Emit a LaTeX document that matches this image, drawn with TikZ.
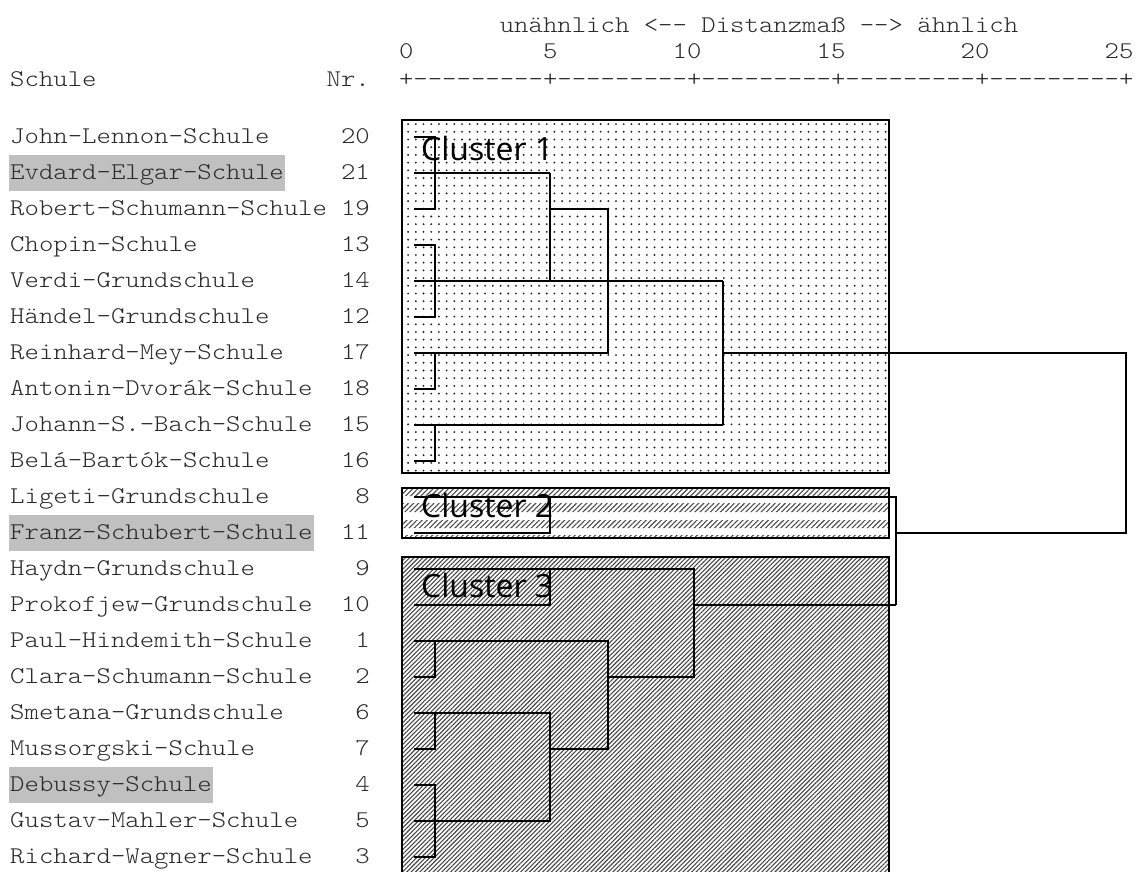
\documentclass[tikz,border=0pt]{standalone}
\usepackage{fontspec}
\setmonofont{Latin Modern Mono Light}[FakeStretch=1.143]
\newfontfamily\osans{Open Sans}
\usetikzlibrary{patterns.meta}
\definecolor{hlc}{HTML}{C0C0C0}
\definecolor{txt}{HTML}{2A2A2A}
\tikzset{
  mono/.style={font=\ttfamily\fontsize{24}{24}\selectfont, text=txt, inner sep=0pt},
  rowlab/.style={mono, anchor=base west, text height=24.5pt, text depth=11.5pt, inner ysep=0pt, inner xsep=1pt},
  rownum/.style={mono, anchor=base east},
  clab/.style={font=\osans\fontsize{32}{32}\selectfont, inner sep=0pt, anchor=base west},
  dl/.style={line width=2pt, black},
  boxline/.style={line width=2.5pt, black},
}
\begin{document}
\begin{tikzpicture}[x=1pt,y=-1pt]
\useasboundingbox (0,0) rectangle (1137,871);
\fill[white] (0,0) rectangle (1137,871);
% header
\node[mono, anchor=base west] (title) at (499.6,32) {unähnlich <-- Distanzmaß --> ähnlich};
\foreach \c/\t/\k in {27/0/a,37/5/b,46/10/c,56/15/d,66/20/e,76/25/f}
  \node[mono, anchor=base west] (tick\k) at ({10+\c*14.4},58) {\t};
\node[mono, anchor=base west] (schule) at (10,86) {Schule};
\node[rownum] (nr) at (370,86) {Nr.};
\node[mono, anchor=base west] (axis) at (398.8,86) {+---------+---------+---------+---------+---------+};
% cluster boxes
\fill[pattern={Dots[distance=7.7pt,radius=1.05pt]}, pattern color=black!85] (402,120) rectangle (889,473);
\draw[boxline] (402,120) rectangle (889,473);
\begin{scope}
  \clip (402,488) rectangle (889,496) (402,503) rectangle (889,512) (402,520) rectangle (889,528) (402,535) rectangle (889,538);
  \fill[pattern={Lines[angle=45,distance=3.6pt,line width=1.1pt]}, pattern color=black!70] (402,488) rectangle (889,538);
\end{scope}
\draw[boxline] (402,488) rectangle (889,538);
\fill[pattern={Lines[angle=45,distance=3.1pt,line width=1.1pt]}, pattern color=black!72] (402,557) rectangle (889,871);
\draw[boxline] (402,875) -- (402,557) -- (889,557) -- (889,875);
% row labels
\foreach \nm/\nr/\fl [count=\i from 0] in {
  John-Lennon-Schule/20/none, Evdard-Elgar-Schule/21/hlc, Robert-Schumann-Schule/19/none,
  Chopin-Schule/13/none, Verdi-Grundschule/14/none, Händel-Grundschule/12/none,
  Reinhard-Mey-Schule/17/none, Antonin-Dvorák-Schule/18/none, Johann-S.-Bach-Schule/15/none,
  Belá-Bartók-Schule/16/none, Ligeti-Grundschule/8/none, Franz-Schubert-Schule/11/hlc,
  Haydn-Grundschule/9/none, Prokofjew-Grundschule/10/none, Paul-Hindemith-Schule/1/none,
  Clara-Schumann-Schule/2/none, Smetana-Grundschule/6/none, Mussorgski-Schule/7/none,
  Debussy-Schule/4/hlc, Gustav-Mahler-Schule/5/none, Richard-Wagner-Schule/3/none}
{
  \pgfmathsetmacro\yb{137+36*\i+6.5}
  \node[rowlab, fill=\fl] (s\i) at (9,\yb) {\nm};
  \node[rownum] (n\i) at (370,\yb) {\nr};
}
% cluster 1
\draw[dl] (414,137) -| (435,209) -- (414,209);
\draw[dl] (414,173) -- (550,173);
\draw[dl] (414,245) -| (435,317) -- (414,317);
\draw[dl] (414,281) -- (723,281);
\draw[dl] (550,173) -- (550,281);
\draw[dl] (550,209) -| (608,353) -- (414,353);
\draw[dl] (435,353) |- (414,389);
\draw[dl] (414,425) -- (723,425);
\draw[dl] (435,425) |- (414,461);
\draw[dl] (723,281) -- (723,425);
\draw[dl] (723,353) -| (1126,533) -- (896,533);
% cluster 2
\draw[dl] (414,497) -- (896,497) -- (896,605);
\draw[dl] (550,497) |- (414,533);
% cluster 3
\draw[dl] (414,569) -| (694,677) -- (608,677);
\draw[dl] (550,569) |- (414,605);
\draw[dl] (694,605) -- (896,605);
\draw[dl] (414,641) -| (608,749) -- (550,749);
\draw[dl] (435,641) |- (414,677);
\draw[dl] (414,713) -| (550,821) -- (414,821);
\draw[dl] (435,713) |- (414,749);
\draw[dl] (414,785) -| (435,857) -- (414,857);
% cluster labels
\node[clab] (c1) at (421,160) {Cluster 1};
\node[clab] (c2) at (421,517) {Cluster 2};
\node[clab] (c3) at (421,597) {Cluster 3};
\end{tikzpicture}
\end{document}
